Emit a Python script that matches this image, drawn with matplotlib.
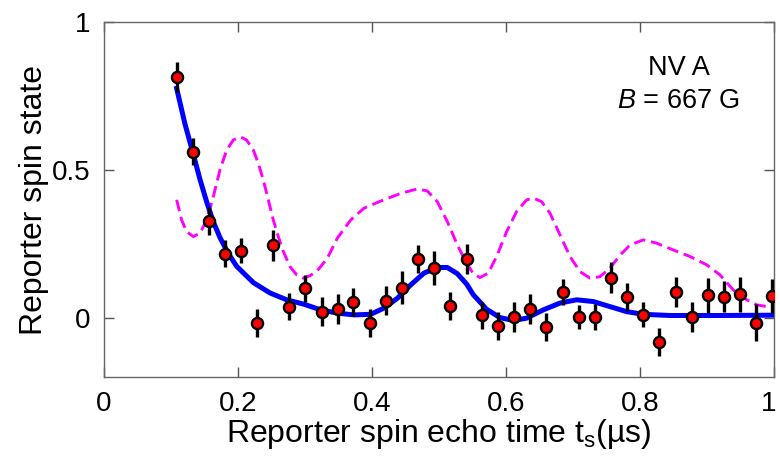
# -*- coding: utf-8 -*-
# Reporter spin echo decay, NV A
import numpy as np
import matplotlib
matplotlib.use("Agg")
import matplotlib.pyplot as plt
import matplotlib.transforms as mtrans

plt.rcParams['font.family'] = ['Liberation Sans', 'DejaVu Sans']
plt.rcParams['mathtext.fontset'] = 'custom'
plt.rcParams['mathtext.rm'] = 'Liberation Sans'
plt.rcParams['mathtext.it'] = 'Liberation Sans:italic'

# measured points
t_data = [0.1085, 0.1324, 0.1567, 0.1806, 0.2040, 0.2284, 0.2527, 0.2766, 0.3004, 0.3249,
          0.3488, 0.3721, 0.3970, 0.4204, 0.4443, 0.4682, 0.4925, 0.5164, 0.5413, 0.5646,
          0.5885, 0.6124, 0.6363, 0.6601, 0.6846, 0.7085, 0.7324, 0.7567, 0.7810, 0.8049,
          0.8288, 0.8533, 0.8772, 0.9010, 0.9249, 0.9488, 0.9727, 0.9966]
s_data = [0.814, 0.561, 0.328, 0.218, 0.227, -0.017, 0.246, 0.039, 0.101, 0.022,
          0.030, 0.054, -0.015, 0.059, 0.103, 0.201, 0.169, 0.042, 0.199, 0.009,
          -0.025, 0.005, 0.031, -0.030, 0.089, 0.003, 0.003, 0.137, 0.072, 0.011,
          -0.081, 0.087, 0.003, 0.078, 0.072, 0.081, -0.015, 0.075]
s_err = [0.051, 0.046, 0.047, 0.045, 0.042, 0.047, 0.052, 0.046, 0.046, 0.049,
         0.051, 0.047, 0.047, 0.050, 0.056, 0.047, 0.056, 0.047, 0.051, 0.047,
         0.047, 0.051, 0.051, 0.047, 0.044, 0.040, 0.044, 0.052, 0.047, 0.042,
         0.047, 0.051, 0.050, 0.059, 0.052, 0.059, 0.063, 0.057]

# fit (blue)
t_fit = [0.1085, 0.1209, 0.1333, 0.1433, 0.1533, 0.1632, 0.1731, 0.1856, 0.1980, 0.2229,
         0.2478, 0.2726, 0.2985, 0.3234, 0.3483, 0.3731, 0.3980, 0.4179, 0.4378, 0.4577,
         0.4776, 0.4975, 0.5124, 0.5274, 0.5413, 0.5512, 0.5711, 0.5910, 0.6109, 0.6308,
         0.6557, 0.6806, 0.7055, 0.7303, 0.7552, 0.7801, 0.8049, 0.8448, 0.9194, 1.0]
s_fit = [0.775, 0.655, 0.553, 0.468, 0.392, 0.325, 0.272, 0.218, 0.175, 0.120,
         0.085, 0.062, 0.047, 0.028, 0.017, 0.011, 0.013, 0.034, 0.067, 0.112,
         0.152, 0.171, 0.171, 0.150, 0.115, 0.079, 0.030, 0.002, -0.008, 0.000,
         0.028, 0.051, 0.062, 0.056, 0.039, 0.022, 0.013, 0.009, 0.009, 0.010]

# simulation (magenta dashed)
t_sim = [0.1085, 0.1159, 0.1234, 0.1333, 0.1433, 0.1533, 0.1632, 0.1731, 0.1831, 0.1930,
         0.2030, 0.2129, 0.2229, 0.2303, 0.2378, 0.2453, 0.2527, 0.2602, 0.2677, 0.2776,
         0.2876, 0.2975, 0.3075, 0.3184, 0.3333, 0.3483, 0.3682, 0.3881, 0.4129, 0.4428,
         0.4677, 0.4826, 0.4975, 0.5124, 0.5274, 0.5413, 0.5512, 0.5612, 0.5736, 0.5860,
         0.6010, 0.6159, 0.6308, 0.6408, 0.6532, 0.6657, 0.6806, 0.6955, 0.7104, 0.7254,
         0.7403, 0.7552, 0.7701, 0.7851, 0.8049, 0.8248, 0.8498, 0.8746, 0.8995, 0.9194,
         0.9393, 0.9592, 0.9741, 0.9891, 1.0]
s_sim = [0.399, 0.331, 0.292, 0.275, 0.287, 0.331, 0.410, 0.500, 0.567, 0.601,
         0.612, 0.601, 0.567, 0.523, 0.466, 0.399, 0.331, 0.275, 0.225, 0.174,
         0.146, 0.135, 0.143, 0.160, 0.202, 0.270, 0.331, 0.371, 0.395, 0.421,
         0.436, 0.429, 0.393, 0.326, 0.247, 0.185, 0.150, 0.137, 0.152, 0.208,
         0.292, 0.360, 0.399, 0.405, 0.393, 0.354, 0.281, 0.208, 0.157, 0.135,
         0.140, 0.169, 0.212, 0.247, 0.264, 0.253, 0.230, 0.208, 0.180, 0.146,
         0.095, 0.062, 0.045, 0.039, 0.045]

fig = plt.figure(figsize=(7.8, 4.62), dpi=100)
ax = fig.add_axes([0.1333, 0.183, 0.859, 0.770])

ax.plot(t_sim, s_sim, color="#ff00ff", lw=2.1, dashes=(4, 2), zorder=2)
ax.plot(t_fit, s_fit, color="#0000ff", lw=3.6, zorder=3, solid_joinstyle="round")
ax.errorbar(t_data, s_data, yerr=s_err, fmt="o", color="black", ecolor="black",
            elinewidth=2.4, capsize=0, markersize=8, markerfacecolor="red",
            markeredgecolor="black", markeredgewidth=1.7, zorder=4)

ax.set_xlim(0, 1)
ax.set_ylim(-0.2, 1)
ax.set_xticks([0, 0.2, 0.4, 0.6, 0.8, 1])
ax.set_xticklabels(["0", "0.2", "0.4", "0.6", "0.8", "1"])
ax.set_yticks([0, 0.5, 1])
ax.set_yticklabels(["0", "0.5", "1"])
ax.tick_params(direction="in", length=7, width=1, color="#555555", labelsize=20,
               top=True, right=True, pad=10)
for sp in ax.spines.values():
    sp.set_color("#666666")
    sp.set_linewidth(1)

# keep the last x tick label inside the canvas
last = ax.get_xticklabels()[-1]
last.set_transform(last.get_transform() + mtrans.ScaledTranslation(-4 / 72, 0, fig.dpi_scale_trans))

ax.set_xlabel("Reporter spin echo time t$_\\mathregular{s}$(µs)", fontsize=23, labelpad=0)
ax.set_ylabel("Reporter spin state", fontsize=23, labelpad=2)

ax.text(0.858, 0.844, "NV A", fontsize=19.5, ha="center", va="center")
ax.text(0.858, 0.733, "$B$ = 667 G", fontsize=19.5, ha="center", va="center")

fig.savefig("out.png", dpi=100)
